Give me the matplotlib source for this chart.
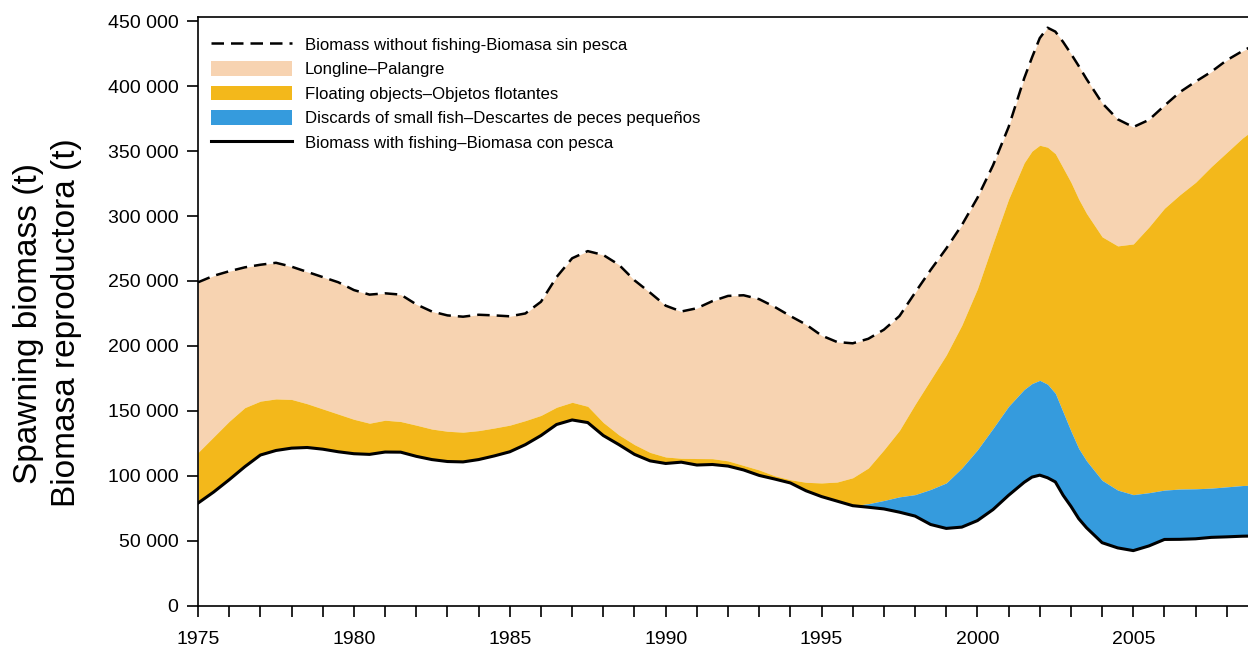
import matplotlib.pyplot as plt
from matplotlib.ticker import FuncFormatter, MultipleLocator
from matplotlib.lines import Line2D
from matplotlib.patches import Patch

plt.rcParams['font.family'] = ['Liberation Sans', 'DejaVu Sans']

# Spawning biomass (t), read at half-year steps (quarterly around the 2002 peak)
years = [1975.0, 1975.5, 1976.0, 1976.5, 1977.0, 1977.5, 1978.0, 1978.5, 1979.0, 1979.5,
         1980.0, 1980.5, 1981.0, 1981.5, 1982.0, 1982.5, 1983.0, 1983.5, 1984.0, 1984.5,
         1985.0, 1985.5, 1986.0, 1986.5, 1987.0, 1987.5, 1988.0, 1988.5, 1989.0, 1989.5,
         1990.0, 1990.5, 1991.0, 1991.5, 1992.0, 1992.5, 1993.0, 1993.5, 1994.0, 1994.5,
         1995.0, 1995.5, 1996.0, 1996.5, 1997.0, 1997.5, 1998.0, 1998.5, 1999.0, 1999.5,
         2000.0, 2000.5, 2001.0, 2001.5, 2001.75, 2002.0, 2002.25, 2002.5, 2002.75, 2003.0,
         2003.25, 2003.5, 2004.0, 2004.5, 2005.0, 2005.5, 2006.0, 2006.5, 2007.0, 2007.5,
         2008.0, 2008.5, 2009.0]

without_fishing = [249000, 254000, 257500, 260500, 262500, 264000, 261000, 257000, 253000, 249000,
                   243000, 239500, 240500, 239500, 232000, 226500, 223500, 222500, 224000, 223500,
                   222800, 225000, 234000, 253000, 267500, 273000, 270000, 262500, 250500, 241000,
                   231000, 226500, 229000, 234500, 238500, 239000, 236000, 230000, 223000, 216500,
                   208000, 203000, 202000, 205500, 212500, 223000, 241000, 258500, 275000, 293000,
                   314000, 339000, 368500, 406000, 422000, 437000, 445000, 442000, 434000, 425000,
                   415500, 405500, 387000, 374500, 368500, 374000, 385000, 395500, 403500, 411000,
                   420000, 427000, 433000]

# upper edge of the floating-objects band
floating_top = [118000, 130000, 142000, 152500, 157500, 159200, 158800, 155500, 151500, 147500,
                143500, 140500, 142800, 141800, 139000, 136000, 134300, 133600, 134800, 136800,
                139000, 142500, 146500, 152800, 156600, 153500, 141000, 131500, 124000, 118000,
                114500, 113500, 113300, 113200, 111500, 108000, 104500, 100000, 97000, 95000,
                94500, 95200, 98500, 106000, 120000, 135000, 155000, 174000, 193000, 216000,
                244000, 279000, 313000, 341000, 350000, 354500, 353000, 348000, 337000, 326000,
                313000, 302000, 284000, 277000, 278500, 291500, 306000, 316500, 326000, 338000,
                349000, 360000, 369000]

with_fishing = [79000, 87500, 97000, 107000, 116000, 119500, 121300, 121800, 120500, 118500,
                117000, 116500, 118300, 118200, 115000, 112500, 111000, 110700, 112500, 115300,
                118500, 124000, 131000, 139500, 143000, 141000, 131000, 124000, 116500, 111500,
                109500, 110500, 108300, 108700, 107500, 104500, 100300, 97500, 94500, 88500,
                84000, 80500, 77000, 75800, 74500, 72000, 69000, 62500, 59500, 60500,
                65500, 74000, 85000, 95000, 99000, 100500, 98500, 95300, 85000, 76500,
                67000, 60000, 48500, 44500, 42400, 46000, 51000, 51100, 51500, 52600,
                53000, 53500, 53700]

# upper edge of the discards band (no discards effect before 1996)
discards_top = with_fishing[:43] + [
    78500, 81000, 83800, 85500, 89500, 94500, 106000,
    120000, 136500, 153500, 166500, 171000, 173500, 170500, 163500, 149000, 134500,
    121000, 111500, 96500, 89000, 85500, 87000, 89000, 89800, 90000, 90500,
    91500, 92500, 93000]

c_longline = '#F7D3B1'
c_floating = '#F3B81B'
c_discards = '#359BDD'

fig = plt.figure(figsize=(12.48, 6.46), dpi=100)
ax = fig.add_axes([0.1587, 0.0624, 0.8413, 0.9108])

ax.fill_between(years, floating_top, without_fishing, color=c_longline, lw=0)
ax.fill_between(years, discards_top, floating_top, color=c_floating, lw=0)
ax.fill_between(years, with_fishing, discards_top, color=c_discards, lw=0)
ax.plot(years, without_fishing, color='black', lw=1.8, linestyle=(0, (5, 2.8)))
ax.plot(years, with_fishing, color='black', lw=2.2)

ax.set_xlim(1975, 2008.68)
ax.set_ylim(0, 453000)

ax.xaxis.set_major_locator(MultipleLocator(5))
ax.xaxis.set_minor_locator(MultipleLocator(1))
ax.yaxis.set_major_locator(MultipleLocator(50000))
ax.yaxis.set_major_formatter(FuncFormatter(lambda v, p: f'{int(v):,}'.replace(',', ' ')))
ax.tick_params(axis='both', which='both', direction='out', length=8, width=1.2, labelsize=14)
ax.tick_params(axis='x', pad=10)
ax.tick_params(axis='y', pad=6)

for s in ['left', 'bottom', 'top']:
    ax.spines[s].set_linewidth(1.2)
ax.spines['right'].set_visible(False)

# no tick marks at 0 and at the top label
yt = ax.yaxis.get_major_ticks()
yt[0].tick1line.set_visible(False)
yt[-1].tick1line.set_visible(False)

fig.text(0.038, 0.5, 'Spawning biomass (t)\nBiomasa reproductora (t)', rotation=90,
         ha='center', va='center', multialignment='center', fontsize=24, linespacing=1.3)

handles = [
    Line2D([], [], color='black', lw=1.8, linestyle=(0, (5, 2.8))),
    Patch(facecolor=c_longline, edgecolor='none'),
    Patch(facecolor=c_floating, edgecolor='none'),
    Patch(facecolor=c_discards, edgecolor='none'),
    Line2D([], [], color='black', lw=2.2),
]
labels = [
    'Biomass without fishing-Biomasa sin pesca',
    'Longline\u2013Palangre',
    'Floating objects\u2013Objetos flotantes',
    'Discards of small fish\u2013Descartes de peces pequeños',
    'Biomass with fishing\u2013Biomasa con pesca',
]
ax.legend(handles, labels, loc='upper left', bbox_to_anchor=(0.006, 0.978), frameon=False,
          fontsize=12.1, handlelength=4.8, handleheight=0.95, handletextpad=0.78,
          labelspacing=0.5, borderaxespad=0)

fig.savefig('out.png', dpi=100)
